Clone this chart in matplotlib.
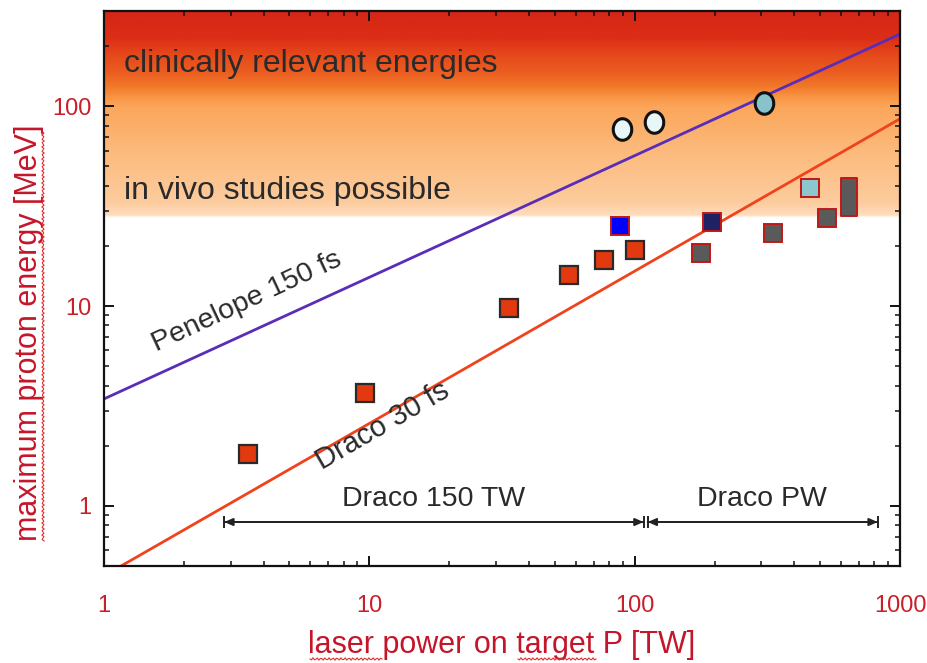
import numpy as np
import matplotlib
matplotlib.use("Agg")
import matplotlib.pyplot as plt
from matplotlib.path import Path
from matplotlib.colors import to_rgb
from matplotlib.ticker import LogLocator, FixedLocator, FixedFormatter, NullFormatter

plt.rcParams['font.family'] = ['Liberation Sans', 'DejaVu Sans']

# ---------------- data ----------------
draco_x = [3.48, 9.63, 33.6, 56.8, 76.5, 100.0]
draco_y = [1.82, 3.69, 9.8, 14.3, 17.0, 19.0]

blue_x, blue_y = [88.0], [25.1]
navy_x, navy_y = [195.0], [26.5]
gray_x = [178.0, 332.0, 533.0]
gray_y = [18.4, 23.2, 27.5]
cyan_sq_x, cyan_sq_y = [456.0], [39.1]
tall_x = [644.0]
tall_lo = [28.3]
tall_hi = [44.0]

circ_light_x = [89.3, 118.5]
circ_light_y = [77.2, 83.8]
circ_dark_x, circ_dark_y = [307.0], [104.0]

penelope_x = [1.0, 1000.0]
penelope_y = [3.43, 230.0]
draco_line_x = [1.16, 1000.0]
draco_line_y = [0.5, 86.6]

range150_x = [2.84, 108.0]
rangePW_x = [112.0, 824.0]
range_y = 0.83

xticks = [1, 10, 100, 1000]
xticklabels = ['1', '10', '100', '1000']
yticks = [1, 10, 100]
yticklabels = ['1', '10', '100']

# gradient stops (energy MeV -> colour)
grad_E = [27.8, 28.6, 33, 60, 100, 112, 125, 150, 180, 220, 300]
grad_c = ['#FFFFFF', '#FEDDBE', '#FDCC9E', '#FCBA7C', '#FBA65A', '#F89544',
          '#F27A2A', '#EB5C20', '#E54A1C', '#DC2E16', '#D62616']

# ---------------- figure ----------------
fig = plt.figure(figsize=(9.27, 6.63), dpi=100)
ax = fig.add_axes([104/927, (663-566)/663, (900-104)/927, (566-11)/663])
ax.set_xscale('log')
ax.set_yscale('log')
ylim = (0.5, 300)
ax.set_xlim(1, 1000)
ax.set_ylim(*ylim)

# background gradient
N = 600
frac = np.linspace(0, 1, N)
logE = np.log10(ylim[0]) + frac * (np.log10(ylim[1]) - np.log10(ylim[0]))
stopsL = np.log10(grad_E)
rgb = np.array([to_rgb(c) for c in grad_c])
img = np.ones((N, 1, 3))
for k in range(3):
    img[:, 0, k] = np.interp(logE, stopsL, rgb[:, k], left=1.0, right=rgb[-1, k])
ax.imshow(img, extent=[0, 1, 0, 1], transform=ax.transAxes, origin='lower',
          aspect='auto', zorder=0, interpolation='bilinear')

# lines
ax.plot(penelope_x, penelope_y, color='#5A2DB8', lw=2.0, zorder=2)
ax.plot(draco_line_x, draco_line_y, color='#F0431C', lw=2.0, zorder=2)

# markers
ms = 13.5
ax.plot(draco_x, draco_y, 's', ms=ms, mfc='#E23A0E', mec='#2A2A2A', mew=1.6, ls='none', zorder=4)
ax.plot(blue_x, blue_y, 's', ms=ms, mfc='#0000FF', mec='#C01818', mew=1.4, ls='none', zorder=4)
ax.plot(navy_x, navy_y, 's', ms=ms, mfc='#1F2162', mec='#C01818', mew=1.4, ls='none', zorder=4)
ax.plot(gray_x, gray_y, 's', ms=ms, mfc='#5A5A5A', mec='#C01818', mew=1.4, ls='none', zorder=4)
ax.plot(cyan_sq_x, cyan_sq_y, 's', ms=ms, mfc='#8CC6CE', mec='#C01818', mew=1.4, ls='none', zorder=4)

# tall rectangle (range marker)
tall_y = [np.sqrt(a * b) for a, b in zip(tall_lo, tall_hi)]
rect_h_px = [(np.log10(b) - np.log10(a)) / (np.log10(ylim[1]) - np.log10(ylim[0])) * 555
             for a, b in zip(tall_lo, tall_hi)]
rect_marker = Path([(-0.22, -0.5), (0.22, -0.5), (0.22, 0.5), (-0.22, 0.5), (-0.22, -0.5)],
                   [Path.MOVETO, Path.LINETO, Path.LINETO, Path.LINETO, Path.CLOSEPOLY])
ax.plot(tall_x, tall_y, marker=rect_marker, ms=rect_h_px[0] * 72 / 100, mfc='#5A5A5A',
        mec='#C01818', mew=1.4, ls='none', zorder=5)

# ellipse markers
t = np.linspace(0, 2 * np.pi, 60)
ell = Path(np.column_stack([0.43 * np.cos(t), 0.5 * np.sin(t)]))
ax.plot(circ_light_x, circ_light_y, marker=ell, ms=15.5, mfc='#E8F6F8', mec='#111111',
        mew=2.2, ls='none', zorder=5)
ax.plot(circ_dark_x, circ_dark_y, marker=ell, ms=15.5, mfc='#88C3CC', mec='#111111',
        mew=2.2, ls='none', zorder=5)

# texts
tc = '#2A2A2A'
ax.text(1.19, 162, 'clinically relevant energies', fontsize=23, color=tc, va='center', ha='left', zorder=6)
ax.text(1.19, 37.7, 'in vivo studies possible', fontsize=23, color=tc, va='center', ha='left', zorder=6)
ax.text(3.44, 10.5, 'Penelope 150 fs', fontsize=20.5, color=tc, rotation=25, ha='center', va='center',
        rotation_mode='anchor', zorder=6)
ax.text(11.2, 2.51, 'Draco 30 fs', fontsize=21, color=tc, rotation=30, ha='center', va='center',
        rotation_mode='anchor', zorder=6)
ax.text(17.4, 1.08, 'Draco 150 TW', fontsize=20.5, color=tc, ha='center', va='center', zorder=6)
ax.text(302, 1.08, 'Draco PW', fontsize=20.5, color=tc, ha='center', va='center', zorder=6)

# range arrows
for xr in (range150_x, rangePW_x):
    ax.annotate('', xy=(xr[1], range_y), xytext=(xr[0], range_y),
                arrowprops=dict(arrowstyle='-|>,head_length=0.5,head_width=0.22', color='#222222', lw=1.4,
                                shrinkA=0, shrinkB=0), zorder=6)
    ax.annotate('', xy=(xr[0], range_y), xytext=(xr[1], range_y),
                arrowprops=dict(arrowstyle='-|>,head_length=0.5,head_width=0.22', color='#222222', lw=1.4,
                                shrinkA=0, shrinkB=0), zorder=6)
    ax.plot(xr, [range_y, range_y], marker='|', ms=9, mew=1.4, color='#222222', ls='none', zorder=6)

# axes styling
for s in ax.spines.values():
    s.set_linewidth(1.6)
    s.set_color('#111111')
    s.set_zorder(7)

ax.xaxis.set_major_locator(FixedLocator(xticks))
ax.xaxis.set_major_formatter(FixedFormatter(xticklabels))
ax.yaxis.set_major_locator(FixedLocator(yticks))
ax.yaxis.set_major_formatter(FixedFormatter(yticklabels))
ax.xaxis.set_minor_locator(LogLocator(base=10, subs=np.arange(2, 10)))
ax.yaxis.set_minor_locator(LogLocator(base=10, subs=np.arange(2, 10)))
ax.xaxis.set_minor_formatter(NullFormatter())
ax.yaxis.set_minor_formatter(NullFormatter())

lab_c = '#C8202A'
ax.tick_params(which='both', direction='in', top=True, right=True, color='#111111', zorder=8)
ax.tick_params(which='major', length=7, width=1.4)
ax.tick_params(which='minor', length=3.8, width=1.1)
ax.tick_params(axis='x', which='major', pad=21, labelsize=17, labelcolor=lab_c)
ax.tick_params(axis='y', which='major', pad=9, labelsize=17, labelcolor=lab_c)

ax.set_xlabel('laser power on target P [TW]', fontsize=22, color='#C4162A', va='center')
ax.xaxis.set_label_coords(0.5, -0.142)
ax.set_ylabel('maximum proton energy [MeV]', fontsize=22, color='#C4162A', va='center')
ax.yaxis.set_label_coords(-0.094, 0.42)

# spell-check squiggles (decoration)
def squiggle(x0, x1, y, vertical=False):
    n = int(abs(x1 - x0) / 1.5) + 2
    u = np.linspace(x0, x1, n)
    v = y + 1.2 * np.sin((u - x0) / 4.0 * 2 * np.pi)
    if vertical:
        xs, ys = v, u
    else:
        xs, ys = u, v
    fig.add_artist(plt.Line2D(xs / 927, 1 - ys / 663, color='#E03030', lw=0.8))

squiggle(310, 382, 659)
squiggle(518, 596, 659)
squiggle(132, 541, 43, vertical=True)

fig.savefig('out.png', dpi=100)
